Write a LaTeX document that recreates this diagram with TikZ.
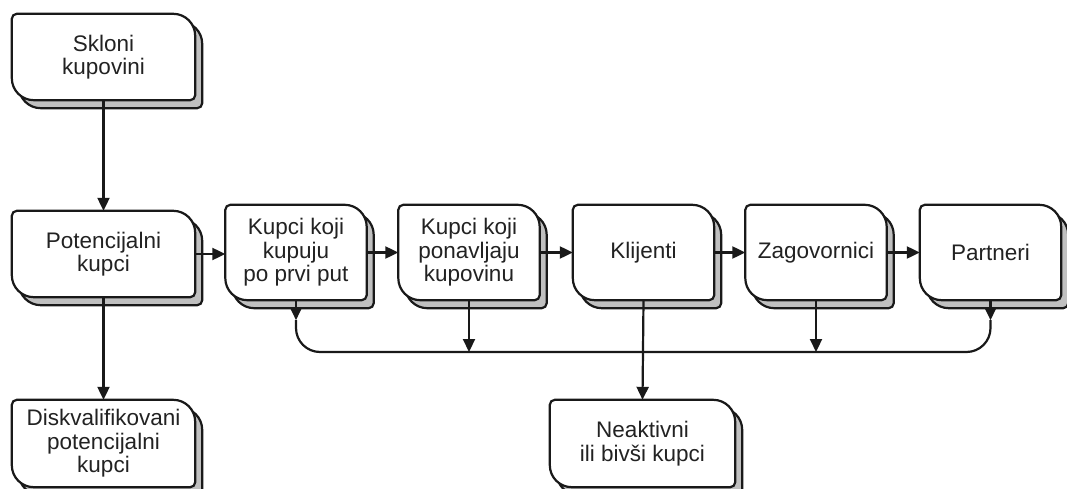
\documentclass[tikz,border=0pt]{standalone}
\usepackage{fontspec}
\setmainfont{Liberation Sans}
\usetikzlibrary{arrows.meta,calc,backgrounds}
\definecolor{kshadow}{HTML}{C0C0C0}
\definecolor{ktext}{HTML}{222222}
\tikzset{
  faza/.style={minimum width=141pt,minimum height=95pt,inner sep=0pt,align=center,
    text=ktext,font=\fontsize{22.5}{23.5}\selectfont},
  velika/.style={faza,minimum width=183pt,minimum height=86pt},
  rub/.style={line width=2.2pt,draw=black!90},
  tok/.style={line width=2.2pt,draw=black!90,-{Triangle[length=13pt,width=12pt]}},
}
\begin{document}
\begin{tikzpicture}[x=1pt,y=1pt]
\useasboundingbox (0,0) rectangle (1067,488);
% left column
\node[velika] (skl) at (103.5,431) {Skloni\\kupovini};
\node[velika] (pk) at (103.5,234) {Potencijalni\\kupci};
\node[velika,minimum height=87pt] (dk) at (103.5,44.5) {Diskvalifikovani\\potencijalni\\kupci};
% main row
\node[faza] (k1) at (296,235.5) {Kupci koji\\kupuju\\po prvi put};
\node[faza] (k2) at (469,235.5) {Kupci koji\\ponavljaju\\kupovinu};
\node[faza] (kl) at (643.5,235.5) {Klijenti};
\node[faza] (zg) at (816,235.5) {Zagovornici};
\node[faza] (pt) at (990.5,235.5) {Partneri};
\node[velika,minimum width=185pt,minimum height=87pt] (na) at (642.5,44.5) {Neaktivni\\ili bivši kupci};
\coordinate (bus) at (0,136);
\coordinate (t1) at ($(k1.south)+(0,-20pt)$);
\coordinate (t5) at ($(pt.south)+(0,-20pt)$);
% box outlines with shadow
\begin{pgfonlayer}{background}
\foreach \n in {skl,pk,dk,k1,k2,kl,zg,pt,na}
  \foreach \dx/\dy/\c in {7/-8/kshadow,0/0/white}
    \draw[rub,fill=\c] ($(\n.north west)+(\dx pt,\dy pt)+(0,-5pt)$) arc[start angle=180,end angle=90,radius=5pt]
      -- ($(\n.north east)+(\dx pt,\dy pt)+(-22pt,0)$) arc[start angle=90,end angle=0,radius=22pt]
      -- ($(\n.south east)+(\dx pt,\dy pt)+(0,5pt)$) arc[start angle=0,end angle=-90,radius=5pt]
      -- ($(\n.south west)+(\dx pt,\dy pt)+(22pt,0)$) arc[start angle=270,end angle=180,radius=22pt] -- cycle;
\end{pgfonlayer}
% connectors
\draw[tok] (skl.south) -- (pk.north);
\draw[tok] (pk.south) -- (dk.north);
\draw[tok] (pk.east) -- (pk.east -| k1.west);
\foreach \a/\b in {k1/k2,k2/kl,kl/zg,zg/pt} \draw[tok] (\a) -- (\b);
\draw[tok] (kl.south) -- (na.north);
\draw[tok] (k1.south) -- (t1);
\draw[tok] (pt.south) -- (t5);
\draw[rub,rounded corners=24pt] (t1) |- (bus -| pt.south) -- (t5);
\draw[tok] (k2.south) -- (k2.south |- bus);
\draw[tok] (zg.south) -- (zg.south |- bus);
\end{tikzpicture}
\end{document}
